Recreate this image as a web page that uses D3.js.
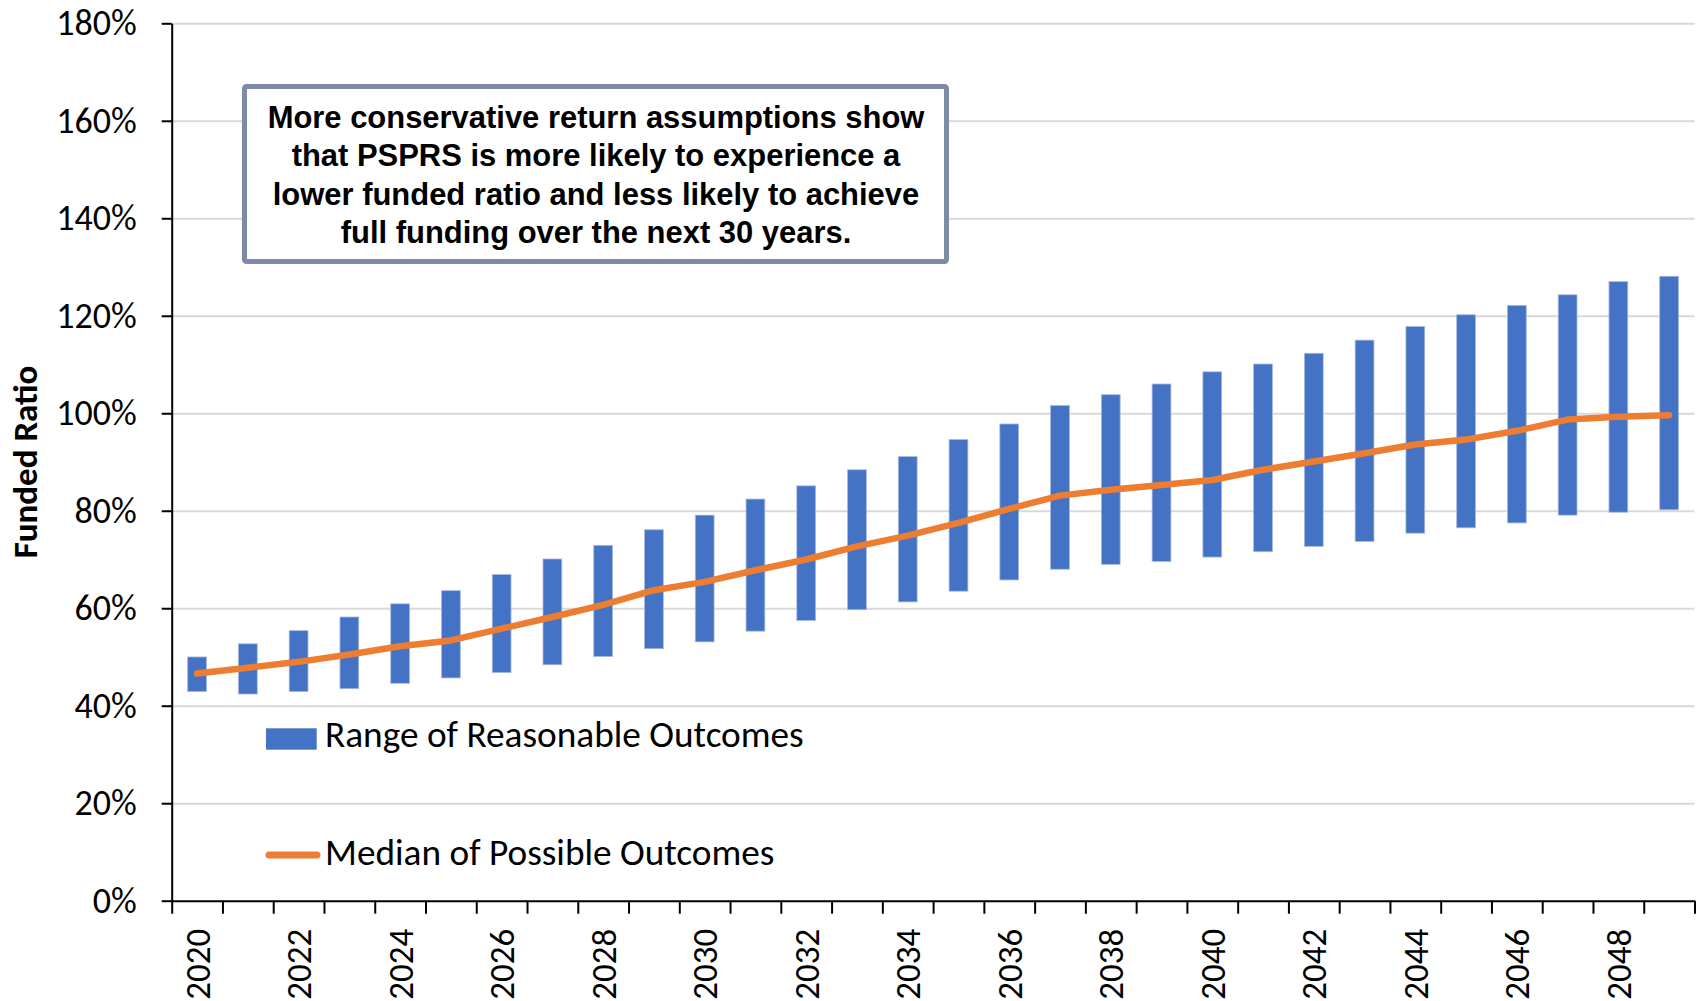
<!DOCTYPE html>
<html>
<head>
<meta charset="utf-8">
<script src="https://cdn.jsdelivr.net/npm/d3@7"></script>
<style>
  body { margin: 0; background: #fff; }
  text { font-family: Calibri, Carlito, Lato, sans-serif; fill: #000; }
  .grid line { stroke: #d9d9d9; stroke-width: 2; }
  .grid path { display: none; }
  .axis path, .axis line { stroke: #000; stroke-width: 2; }
</style>
</head>
<body>
<script>
// Data ------------------------------------------------------------------------
var years = d3.range(2020, 2050); // 2020 ... 2049

// range of reasonable outcomes (funded ratio, %)
var lowValues = [42.9, 42.4, 42.9, 43.5, 44.6, 45.7, 46.8, 48.4, 50.1, 51.7,
                 53.1, 55.3, 57.5, 59.7, 61.3, 63.5, 65.8, 68.0, 69.0, 69.6,
                 70.5, 71.6, 72.7, 73.7, 75.4, 76.5, 77.5, 79.1, 79.7, 80.2];
var highValues = [50.0, 52.7, 55.4, 58.2, 60.9, 63.6, 66.9, 70.1, 72.9, 76.1,
                  79.1, 82.4, 85.1, 88.4, 91.1, 94.6, 97.8, 101.6, 103.8, 106.0,
                  108.5, 110.1, 112.3, 115.0, 117.8, 120.2, 122.1, 124.3, 127.0, 128.1];
// median of possible outcomes
var medianValues = [46.6, 47.8, 49.0, 50.5, 52.2, 53.4, 55.8, 58.2, 60.7, 63.7,
                    65.4, 67.8, 70.0, 72.7, 74.9, 77.5, 80.4, 83.1, 84.3, 85.3,
                    86.3, 88.4, 90.1, 91.8, 93.6, 94.6, 96.4, 98.7, 99.3, 99.6];

var yTicks = [0, 20, 40, 60, 80, 100, 120, 140, 160, 180];
var xLabels = years.filter(function(d, i) { return i % 2 === 0; });

var seriesNames = ["Range of Reasonable Outcomes", "Median of Possible Outcomes"];
var yTitle = "Funded Ratio";
var noteLines = ["More conservative return assumptions show",
                 "that PSPRS is more likely to experience a",
                 "lower funded ratio and less likely to achieve",
                 "full funding over the next 30 years."];

var data = years.map(function(d, i) {
    return {year: d, low: lowValues[i], high: highValues[i], median: medianValues[i]};
});

// Layout ----------------------------------------------------------------------
var margin = {top: 23.3, right: 5.5, bottom: 100.3, left: 171.7},
    width = 1700 - margin.left - margin.right,
    height = 1001 - margin.top - margin.bottom;

var x = d3.scaleBand().domain(years).range([0, width]).padding(0),
    y = d3.scaleLinear().domain([0, 180]).range([height, 0]);

var xTickScale = d3.scaleLinear().domain([0, years.length]).range([0, width]); // tick marks between categories

var barWidth = x.bandwidth() * 0.37;

var svg = d3.select("body").append("svg")
            .attr("width", 1700)
            .attr("height", 1001);

var g = svg.append("g")
           .attr("transform", "translate(" + margin.left + "," + margin.top + ")");

// fit a text's font size to a width
function fitWidth(sel, target) {
    var w = sel.node().getComputedTextLength();
    var fs = parseFloat(sel.attr("font-size"));
    return fs * target / w;
}

// gridlines
g.append("g")
 .attr("class", "grid")
 .call(d3.axisRight(y)
         .tickValues(yTicks.slice(1))
         .tickSize(width)
         .tickFormat(""));

// range bars
g.selectAll(".bar")
 .data(data)
 .enter().append("rect")
 .attr("class", "bar")
 .attr("x", function(d) { return x(d.year) + x.bandwidth() / 2 - barWidth / 2; })
 .attr("y", function(d) { return y(d.high); })
 .attr("width", barWidth)
 .attr("height", function(d) { return y(d.low) - y(d.high); })
 .attr("fill", "#4472c4")
 .attr("stroke", "#a5b8e0")
 .attr("stroke-width", 0.8);

// median line
var medianLine = d3.line()
                   .x(function(d) { return x(d.year) + x.bandwidth() / 2; })
                   .y(function(d) { return y(d.median); });

g.append("path")
 .datum(data)
 .attr("d", medianLine)
 .attr("fill", "none")
 .attr("stroke", "#ed7d31")
 .attr("stroke-width", 6.5)
 .attr("stroke-linecap", "round")
 .attr("stroke-linejoin", "round");

// y axis
g.append("g")
 .attr("class", "axis")
 .call(d3.axisLeft(y)
         .tickValues(yTicks)
         .tickFormat(function(d) { return d + "%"; })
         .tickSizeInner(10)
         .tickSizeOuter(0)
         .tickPadding(25))
 .selectAll("text")
 .attr("font-size", 36)
 .style("font-family", "Calibri, Carlito, Lato, sans-serif");

// x axis: tick marks between categories
g.append("g")
 .attr("class", "axis")
 .attr("transform", "translate(0," + height + ")")
 .call(d3.axisBottom(xTickScale)
         .tickValues(d3.range(0, years.length + 1))
         .tickFormat("")
         .tickSizeInner(13)
         .tickSizeOuter(0));

// x axis: rotated year labels
var xAxis = g.append("g")
             .attr("transform", "translate(0," + height + ")")
             .call(d3.axisBottom(x).tickValues(xLabels).tickSize(0));
xAxis.select(".domain").remove();
xAxis.selectAll("text")
     .attr("transform", "rotate(-90)")
     .attr("text-anchor", "end")
     .attr("x", -28)
     .attr("y", 0)
     .attr("dy", "0.36em")
     .attr("font-size", 35)
     .style("font-family", "Calibri, Carlito, Lato, sans-serif");

// y axis title
svg.append("text")
   .attr("transform", "translate(25,462) rotate(-90)")
   .attr("text-anchor", "middle")
   .attr("dominant-baseline", "central")
   .attr("font-size", 35)
   .attr("font-weight", "bold")
   .text(yTitle);

// legend
svg.append("rect")
   .attr("x", 266).attr("y", 728.3)
   .attr("width", 50.7).attr("height", 21.4)
   .attr("fill", "#4472c4");

svg.append("line")
   .attr("x1", 269).attr("x2", 317)
   .attr("y1", 855).attr("y2", 855)
   .attr("stroke", "#ed7d31")
   .attr("stroke-width", 7)
   .attr("stroke-linecap", "round");

var legendText = svg.selectAll(".legend-text")
   .data(seriesNames)
   .enter().append("text")
   .attr("class", "legend-text")
   .attr("x", 325)
   .attr("y", function(d, i) { return i === 0 ? 746.7 : 865; })
   .attr("font-size", 32)
   .text(function(d) { return d; });
legendText.attr("font-size", fitWidth(legendText.filter(function(d, i) { return i === 0; }), 479));

// annotation box
svg.append("rect")
   .attr("x", 244.5).attr("y", 86.5)
   .attr("width", 702).attr("height", 175)
   .attr("rx", 2)
   .attr("fill", "#fff")
   .attr("stroke", "#7f8aa6")
   .attr("stroke-width", 5);

// note text in a wider bold face with a compact line box, sized to the reference width
var note = svg.selectAll(".note")
   .data(noteLines)
   .enter().append("text")
   .attr("class", "note")
   .attr("x", 596)
   .attr("y", function(d, i) { return 128 + i * 38.3; })
   .attr("text-anchor", "middle")
   .attr("font-size", 29)
   .attr("font-weight", "bold")
   .style("font-family", "'Liberation Sans', Arial, sans-serif")
   .text(function(d) { return d; });
note.attr("font-size", Math.min(31, fitWidth(note.filter(function(d, i) { return i === 0; }), 657)));
</script>
</body>
</html>
